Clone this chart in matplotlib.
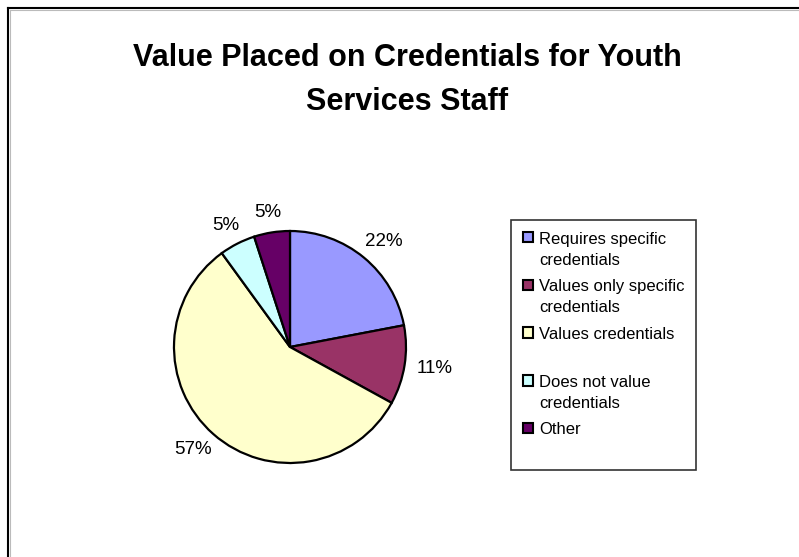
import matplotlib
matplotlib.use("Agg")
import numpy as np
import matplotlib.pyplot as plt
from matplotlib.patches import Patch, Rectangle
from matplotlib.legend_handler import HandlerPatch
from matplotlib.lines import Line2D

# Hodnoty kolacoveho grafu
kategorie = [
    "Requires specific\ncredentials",
    "Values only specific\ncredentials",
    "Values credentials\n ",
    "Does not value\ncredentials",
    "Other\n ",
]
podiely = [22, 11, 57, 5, 5]
farby = ["#9999FF", "#993366", "#FFFFCC", "#CCFFFF", "#660066"]
nadpis = "Value Placed on Credentials for Youth\nServices Staff"

W, H = 799, 557
plt.rcParams["font.family"] = ["Liberation Sans", "DejaVu Sans"]


class StvorcekHandler(HandlerPatch):
    # stvorcek zarovnany s prvym riadkom popisu
    def create_artists(self, legend, orig_handle, xdescent, ydescent,
                       width, height, fontsize, trans):
        s = 0.62 * fontsize
        y = -ydescent + height / 2 - s / 2 + 0.75 * fontsize
        p = Rectangle((-xdescent, y), s, s, facecolor=orig_handle.get_facecolor(),
                      edgecolor="black", lw=1.5, transform=trans)
        return [p]


fig = plt.figure(figsize=(W / 100, H / 100), dpi=100)

# ramik okolo celeho grafu
fig.add_artist(Line2D([8 / W, 1], [1 - 8 / H, 1 - 8 / H], color="black", lw=1.5))
fig.add_artist(Line2D([8 / W, 8 / W], [0, 1 - 8 / H], color="black", lw=1.5))
fig.add_artist(Line2D([10 / W, 1], [1 - 10 / H, 1 - 10 / H], color="#bbbbbb", lw=0.8))
fig.add_artist(Line2D([10 / W, 10 / W], [0, 1 - 10 / H], color="#bbbbbb", lw=0.8))

fig.text(407 / W, 1 - 80 / H, nadpis, ha="center", va="center", fontsize=22,
         fontweight="bold", linespacing=1.65)

# kolac: stred (290, 347), polomer 116 px
cx, cy, r = 290, 347, 116
ax = fig.add_axes([(cx - r) / W, 1 - (cy + r) / H, 2 * r / W, 2 * r / H])
wedges, _, popisy = ax.pie(podiely, colors=farby, startangle=90, counterclock=False,
                           wedgeprops=dict(edgecolor="black", linewidth=1.6),
                           autopct="%.0f%%", pctdistance=1.2,
                           textprops=dict(fontsize=13.5, color="black"))
ax.set_xlim(-1, 1)
ax.set_ylim(-1, 1)
ax.set_aspect("equal")

# popisky posunut tak, aby ich okraj lezal kusok za obvodom kolaca
renderer = fig.canvas.get_renderer()
medzera = 12 / r
for w, t in zip(wedges, popisy):
    uhol = np.deg2rad((w.theta1 + w.theta2) / 2)
    bb = t.get_window_extent(renderer)
    hw = bb.width / 2 / r
    hh = bb.height / 2 / r
    c, s = np.cos(uhol), np.sin(uhol)
    t.set_position(((1 + medzera) * c + hw * c, (1 + medzera) * s + hh * s))

handles = [Patch(facecolor=f) for f in farby]
leg = fig.legend(handles, kategorie, loc="upper left",
                 bbox_to_anchor=(511 / W, 1 - 220 / H), fontsize=12,
                 frameon=True, fancybox=False, edgecolor="black",
                 handlelength=0.62, handleheight=0.7, handletextpad=0.35,
                 labelspacing=0.7, borderpad=0.7, borderaxespad=0,
                 handler_map={Patch: StvorcekHandler()})
for t in leg.get_texts():
    t.set_linespacing(1.5)
leg.get_frame().set_linewidth(1.2)

fig.savefig("out.png", dpi=100, facecolor="white")
